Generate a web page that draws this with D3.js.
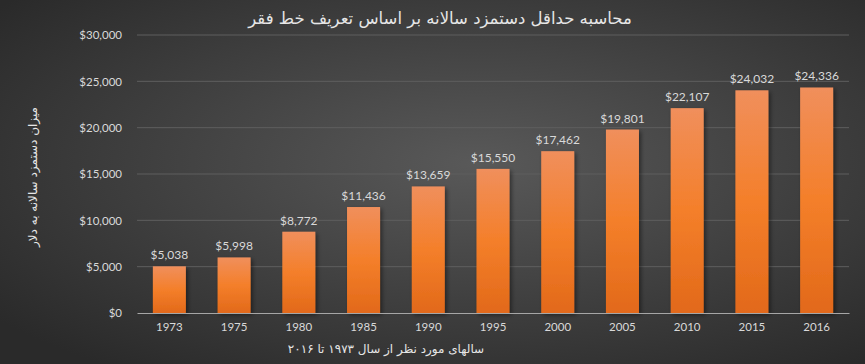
<!DOCTYPE html>
<html>
<head>
<meta charset="utf-8">
<script src="https://cdn.jsdelivr.net/npm/d3@7"></script>
<style>
  body { margin: 0; background: #2e2e2e; }
  svg { display: block; }
  .tick text { font-family: Lato, "Open Sans", sans-serif; font-size: 11.5px; fill: #d9d9d9; }
  .fa { font-family: "DejaVu Sans", sans-serif; fill: #e6e6e6; }
</style>
</head>
<body>
<svg class="chart"></svg>
<script>
var years = ["1973", "1975", "1980", "1985", "1990", "1995", "2000", "2005", "2010", "2015", "2016"];
var wages = [5038, 5998, 8772, 11436, 13659, 15550, 17462, 19801, 22107, 24032, 24336];
var yTicks = [0, 5000, 10000, 15000, 20000, 25000, 30000];

var chartTitle = "محاسبه حداقل دستمزد سالانه بر اساس تعریف خط فقر";
var yTitle = "میزان دستمزد سالانه به دلار";
var xTitle = "سالهای مورد نظر از سال ۱۹۷۳ تا ۲۰۱۶";

var W = 865, H = 364;
var margin = {top: 35, right: 16, bottom: 51, left: 137};
var width = W - margin.left - margin.right,
    height = H - margin.top - margin.bottom;

var svg = d3.select(".chart").attr("width", W).attr("height", H);
var defs = svg.append("defs");

// background gradient, lighter in the middle
var bg = defs.append("radialGradient").attr("id", "bg")
    .attr("cx", "55%").attr("cy", "45%").attr("r", "70%");
bg.append("stop").attr("offset", "0%").attr("stop-color", "#595959");
bg.append("stop").attr("offset", "100%").attr("stop-color", "#2a2a2a");

var barGrad = defs.append("linearGradient").attr("id", "bar")
    .attr("x1", 0).attr("y1", 0).attr("x2", 0).attr("y2", 1);
barGrad.append("stop").attr("offset", "0%").attr("stop-color", "#f08f5c");
barGrad.append("stop").attr("offset", "50%").attr("stop-color", "#f47f2a");
barGrad.append("stop").attr("offset", "100%").attr("stop-color", "#e2691a");

var shadow = defs.append("filter").attr("id", "shadow")
    .attr("x", "-20%").attr("y", "-10%").attr("width", "150%").attr("height", "130%");
shadow.append("feDropShadow").attr("dx", 2).attr("dy", 2).attr("stdDeviation", 2)
    .attr("flood-color", "#000").attr("flood-opacity", 0.45);

svg.append("rect").attr("width", W).attr("height", H).attr("fill", "url(#bg)");

var g = svg.append("g")
    .attr("transform", "translate(" + margin.left + "," + margin.top + ")");

var x = d3.scaleBand().domain(years).range([0, width]).paddingInner(0.49).paddingOuter(0.245);
var y = d3.scaleLinear().domain([0, 30000]).range([height, 0]);

// gridlines
g.selectAll(".grid").data(yTicks.slice(1)).enter().append("line")
    .attr("class", "grid")
    .attr("x1", 0).attr("x2", width)
    .attr("y1", function(d) { return y(d); }).attr("y2", function(d) { return y(d); })
    .attr("stroke", "#5e5e5e").attr("stroke-width", 1);

var money = d3.format("$,");

var yAxis = d3.axisLeft(y).tickValues(yTicks).tickSize(0).tickPadding(15).tickFormat(money);
g.append("g").attr("class", "y axis").call(yAxis)
    .call(function(s) { s.select(".domain").remove(); });

g.selectAll(".bar").data(wages).enter().append("rect")
    .attr("class", "bar")
    .attr("x", function(d, i) { return x(years[i]); })
    .attr("width", x.bandwidth())
    .attr("y", function(d) { return y(d); })
    .attr("height", function(d) { return height - y(d); })
    .attr("fill", "url(#bar)")
    .attr("filter", "url(#shadow)");

g.selectAll(".label").data(wages).enter().append("text")
    .attr("class", "label")
    .attr("x", function(d, i) { return x(years[i]) + x.bandwidth() / 2; })
    .attr("y", function(d) { return y(d) - 7; })
    .attr("text-anchor", "middle")
    .style("font-family", "Lato, 'Open Sans', sans-serif")
    .style("font-size", "12px")
    .attr("fill", "#d9d9d9")
    .text(function(d) { return money(d); });

var xAxis = d3.axisBottom(x).tickSize(0).tickPadding(10);
g.append("g").attr("class", "x axis")
    .attr("transform", "translate(0," + height + ")")
    .call(xAxis)
    .call(function(s) {
        s.select(".domain").attr("stroke", "#a6a6a6").attr("stroke-width", 1.2);
    });

// titles
svg.append("text").attr("class", "fa")
    .attr("x", 440).attr("y", 24)
    .attr("text-anchor", "middle")
    .style("font-size", "16.5px")
    .attr("fill", "#f2f2f2")
    .text(chartTitle);

svg.append("text").attr("class", "fa")
    .attr("transform", "translate(37,177) rotate(-90)")
    .attr("text-anchor", "middle")
    .style("font-size", "12px")
    .attr("fill", "#cfcfcf")
    .text(yTitle);

svg.append("text").attr("class", "fa")
    .attr("x", 386).attr("y", 353)
    .attr("text-anchor", "middle")
    .style("font-size", "12px")
    .attr("fill", "#cfcfcf")
    .text(xTitle);
</script>
</body>
</html>
